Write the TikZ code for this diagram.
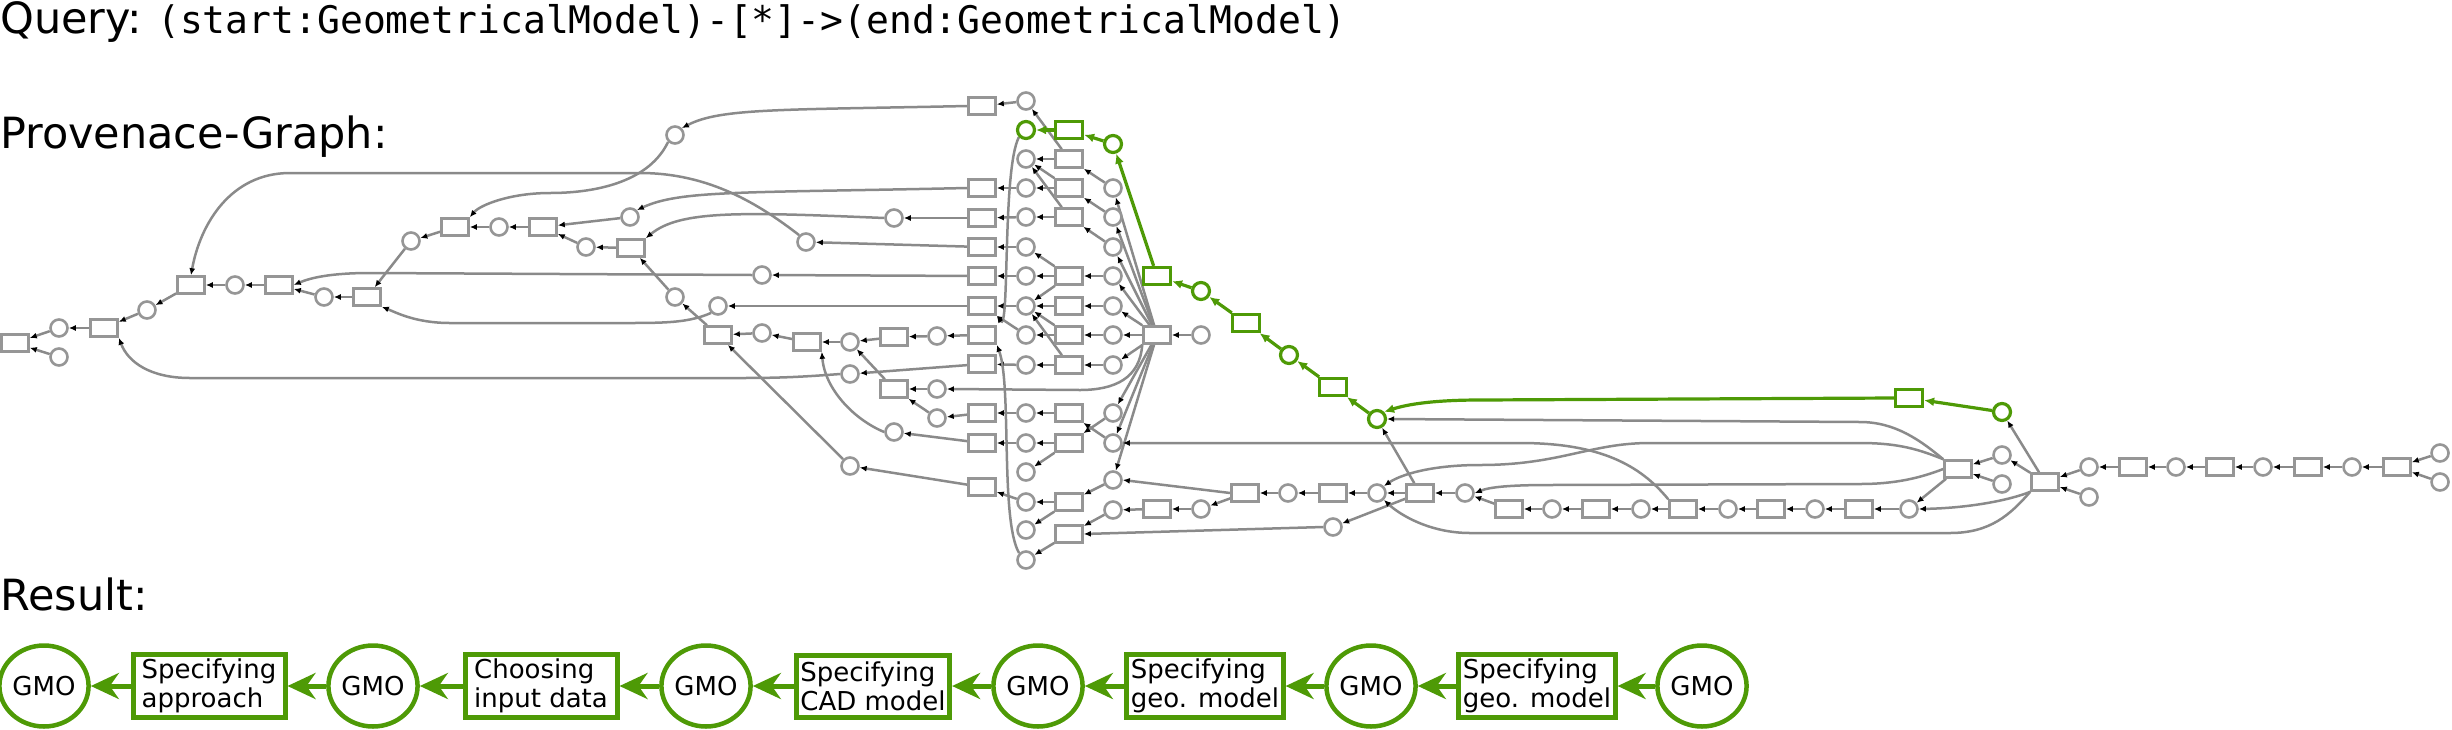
\documentclass[tikz,border=0pt]{standalone}
\usepackage{fontspec}
\setmainfont{DejaVu Sans}
\newfontfamily\monof{DejaVu Sans Mono}
\usetikzlibrary{arrows.meta,shapes.geometric,backgrounds}
\definecolor{pgreen}{RGB}{78,154,6}
\definecolor{nodegray}{RGB}{150,150,150}
\definecolor{edgegray}{RGB}{138,138,138}
\tikzset{
  gc/.style={circle, draw=nodegray, line width=2.6pt, fill=white, minimum size=17pt, inner sep=0pt},
  gbx/.style={rectangle, draw=nodegray, line width=2.6pt, fill=white, minimum width=27pt, minimum height=17pt, inner sep=0pt},
  grc/.style={gc, draw=pgreen, line width=3.2pt},
  grb/.style={gbx, draw=pgreen, line width=3.2pt},
  ed/.style={draw=edgegray, line width=2.5pt, -{Latex[length=7pt,width=6pt,color=black]}},
  ged/.style={draw=pgreen, line width=3.2pt, -{Latex[length=10pt,width=9pt]}},
  rc/.style={ellipse, draw=pgreen, line width=4.5pt, fill=white, minimum width=78pt, minimum height=81pt, inner sep=0pt, font=\fontsize{26}{29}\selectfont},
  rb/.style={rectangle, draw=pgreen, line width=5pt, fill=white, minimum width=152pt, minimum height=62pt, align=left, inner sep=4pt, font=\fontsize{26}{29}\selectfont},
  red/.style={draw=pgreen, line width=5pt, -{Stealth[length=28pt,width=26pt,inset=9pt]}},
  ttl/.style={anchor=base west, inner sep=0pt, font=\fontsize{43}{50}\selectfont}
}
\begin{document}
\begin{tikzpicture}[x=1pt,y=-1pt]
\useasboundingbox (0,0) rectangle (2452,729);
% titles
\node[ttl] (q) at (0,33) {Query:};
\node[anchor=base west, inner sep=0pt, font=\monof\fontsize{38}{45}\selectfont] (qq) at (157,33) {(start:GeometricalModel)-[*]->(end:GeometricalModel)};
\node[ttl] (pg) at (0,148) {Provenace-Graph:};
\node[ttl] (rs) at (0,610) {Result:};

% left chain
\node[gbx] (a1) at (15,343) {};
\node[gc] (a2) at (59,328) {};
\node[gc] (a3) at (59,357) {};
\node[gbx] (a4) at (104,328) {};
\node[gc] (a5) at (147,310) {};
\node[gbx] (a6) at (191,285) {};
\node[gc] (a7) at (235,285) {};
\node[gbx] (a8) at (279,285) {};
\node[gc] (a9) at (324,297) {};
\node[gbx] (a10) at (367,297) {};
\node[gc] (a11) at (411,241) {};
\node[gbx] (a12) at (455,227) {};
\node[gc] (a13) at (499,227) {};
\node[gbx] (a14) at (543,227) {};
\node[gc] (a15) at (586,247) {};
\node[gbx] (a16) at (631,248) {};
\node[gc] (a17) at (630,217) {};
\node[gc] (a18) at (675,135) {};
\node[gc] (a19) at (675,297) {};
% middle
\node[gc] (m1) at (894,218) {};
\node[gc] (m2) at (806,242) {};
\node[gc] (m3) at (762,275) {};
\node[gc] (m4) at (718,306) {};
\node[gbx] (m5) at (718,335) {};
\node[gc] (m6) at (762,333) {};
\node[gbx] (m7) at (807,342) {};
\node[gc] (m8) at (850,342) {};
\node[gbx] (m9) at (894,337) {};
\node[gc] (m10) at (937,336) {};
\node[gc] (m11) at (850,374) {};
\node[gbx] (m12) at (894,389) {};
\node[gc] (m13) at (937,389) {};
\node[gc] (m14) at (937,418) {};
\node[gc] (m15) at (894,432) {};
\node[gc] (m16) at (850,466) {};
% column x=982 boxes
\foreach \y in {106,188,218,247,276,306,335,364,413,443,487} \node[gbx] (k\y) at (982,\y) {};
% column x=1026 circles
\foreach \y in {101,159,188,217,247,276,306,335,365,413,443,472,502,530,560} \node[gc] (c\y) at (1026,\y) {};
\node[grc] (c130) at (1026,130) {};
% column x=1069 boxes
\foreach \y in {159,188,217,276,306,335,365,413,443,502,534} \node[gbx] (b\y) at (1069,\y) {};
\node[grb] (b130) at (1069,130) {};
% column x=1113 circles
\foreach \y in {188,217,247,276,306,335,365,413,443,480,510} \node[gc] (d\y) at (1113,\y) {};
\node[grc] (d144) at (1113,144) {};
% hub and neighbours
\node[grb] (g276) at (1157,276) {};
\node[gbx] (H) at (1157,335) {};
\node[gbx] (e509) at (1157,509) {};
\node[grc] (g291) at (1201,291) {};
\node[gc] (f335) at (1201,335) {};
\node[gc] (f509) at (1201,509) {};
% green chain
\node[grb] (gb323) at (1246,323) {};
\node[grc] (gc355) at (1289,355) {};
\node[grb] (gb387) at (1333,387) {};
\node[grc] (gc419) at (1377,419) {};
\node[grb] (gb398) at (1909,398) {};
\node[grc] (gc412) at (2002,412) {};
% row 493
\node[gbx] (r1) at (1245,493) {};
\node[gc] (r2) at (1288,493) {};
\node[gbx] (r3) at (1333,493) {};
\node[gc] (r4) at (1377,493) {};
\node[gbx] (r5) at (1420,493) {};
\node[gc] (r6) at (1465,493) {};
\node[gc] (r7) at (1333,527) {};
% row 509
\node[gbx] (s1) at (1509,509) {};
\node[gc] (s2) at (1552,509) {};
\node[gbx] (s3) at (1596,509) {};
\node[gc] (s4) at (1641,509) {};
\node[gbx] (s5) at (1683,509) {};
\node[gc] (s6) at (1728,509) {};
\node[gbx] (s7) at (1771,509) {};
\node[gc] (s8) at (1815,509) {};
\node[gbx] (s9) at (1859,509) {};
\node[gc] (s10) at (1909,509) {};
% right part
\node[gbx] (t1) at (1958,469) {};
\node[gc] (t2) at (2002,455) {};
\node[gc] (t3) at (2002,484) {};
\node[gbx] (t4) at (2045,482) {};
\node[gc] (t5) at (2089,467) {};
\node[gc] (t6) at (2089,497) {};
\node[gbx] (t7) at (2133,467) {};
\node[gc] (t8) at (2176,467) {};
\node[gbx] (t9) at (2220,467) {};
\node[gc] (t10) at (2263,467) {};
\node[gbx] (t11) at (2308,467) {};
\node[gc] (t12) at (2352,467) {};
\node[gbx] (t13) at (2397,467) {};
\node[gc] (t14) at (2440,453) {};
\node[gc] (t15) at (2440,482) {};

% result row
\node[rc] (R1) at (44,686) {GMO};
\node[rb] (R2) at (209,686) {Specifying\\approach};
\node[rc] (R3) at (373,686) {GMO};
\node[rb] (R4) at (541,686) {Choosing\\input data};
\node[rc] (R5) at (706,686) {GMO};
\node[rb] (R6) at (873,686) {Specifying\\CAD model};
\node[rc] (R7) at (1038,686) {GMO};
\node[rb] (R8) at (1205,686) {Specifying\\geo. model};
\node[rc] (R9) at (1371,686) {GMO};
\node[rb] (R10) at (1537,686) {Specifying\\geo. model};
\node[rc] (R11) at (1702,686) {GMO};
\draw[red] (R3) -- (R2);
\draw[red] (R2) -- (R1);
\draw[red] (R5) -- (R4);
\draw[red] (R4) -- (R3);
\draw[red] (R7) -- (R6);
\draw[red] (R6) -- (R5);
\draw[red] (R9) -- (R8);
\draw[red] (R8) -- (R7);
\draw[red] (R11) -- (R10);
\draw[red] (R10) -- (R9);

\begin{pgfonlayer}{background}
% left chain
\draw[ed] (a2) -- (a1);
\draw[ed] (a3) -- (a1);
\draw[ed] (a4) -- (a2);
\draw[ed] (a5) -- (a4);
\draw[ed] (a6) -- (a5);
\draw[ed] (a7) -- (a6);
\draw[ed] (a8) -- (a7);
\draw[ed] (a9) -- (a8);
\draw[ed] (a10) -- (a9);
\draw[ed] (a11) -- (a10);
\draw[ed] (a12) -- (a11);
\draw[ed] (a13) -- (a12);
\draw[ed] (a14) -- (a13);
\draw[ed] (a17) -- (a14);
\draw[ed] (a15) -- (a14);
\draw[ed] (a16) -- (a15);
\draw[ed] (a19) -- (a16);
\draw[ed] (m5) -- (a19);
\draw[ed] (a18.south west) .. controls (650,180) and (600,193) .. (550,193) .. controls (510,193) and (480,205) .. (a12.north east);
\draw[ed] (m1.west) .. controls (740,212) and (680,210) .. (a16.north east);
\draw[ed] (k106.west) .. controls (780,110) and (720,108) .. (a18.north east);
\draw[ed] (k188.west) .. controls (740,193) and (680,190) .. (a17.north east);
\draw[ed] (m2.north west) .. controls (760,205) and (710,173) .. (640,173) -- (290,173) .. controls (230,173) and (200,225) .. (a6.north);
\draw[ed] (m3.west) -- (370,273) .. controls (330,273) and (310,278) .. (a8.east);
\draw[ed] (m4.south west) .. controls (690,322) and (670,323) .. (630,323) -- (450,323) .. controls (415,323) and (395,312) .. (a10.south east);
\draw[ed] (m11.west) .. controls (800,377) and (780,378) .. (740,378) -- (190,378) .. controls (150,378) and (128,362) .. (a4.south east);
% middle
\draw[ed] (m16) -- (m5);
\draw[ed] (m6) -- (m5);
\draw[ed] (m7) -- (m6);
\draw[ed] (m8) -- (m7);
\draw[ed] (m15.west) .. controls (855,420) and (825,390) .. (m7.south east);
\draw[ed] (m9) -- (m8);
\draw[ed] (m12) -- (m8);
\draw[ed] (m10) -- (m9);
\draw[ed] (k335) -- (m10);
\draw[ed] (k364) -- (m11);
\draw[ed] (m13) -- (m12);
\draw[ed] (m14) -- (m12);
\draw[ed] (H.south west) .. controls (1140,378) and (1115,390) .. (1080,390) -- (m13.east);
\draw[ed] (k413) -- (m14);
\draw[ed] (k443) -- (m15);
\draw[ed] (k487) -- (m16);
\draw[ed] (k218) -- (m1);
\draw[ed] (k247) -- (m2);
\draw[ed] (k276) -- (m3);
\draw[ed] (k306) -- (m4);
% column
\draw[ed] (c101) -- (k106);
\draw[ed] (b159) -- (c101);
\draw[ed] (c188) -- (k188);
\draw[ed] (c217) -- (k218);
\draw[ed] (c247) -- (k247);
\draw[ed] (c276) -- (k276);
\draw[ed] (c306) -- (k306);
\draw[ed] (c335) -- (k306);
\draw[ed] (c365) -- (k364);
\draw[ed] (c413) -- (k413);
\draw[ed] (c443) -- (k443);
\draw[ed] (c502) -- (k487);
\draw[ed] (c130.south west) .. controls (1002,170) and (1010,335) .. (k306.south east);
\draw[ed] (c560.north west) .. controls (1000,520) and (1012,385) .. (k335.south east);
\draw[ed] (b159) -- (c159);
\draw[ed] (b188) -- (c159);
\draw[ed] (b217) -- (c159);
\draw[ed] (b188) -- (c188);
\draw[ed] (b217) -- (c217);
\draw[ed] (d188) -- (b159);
\draw[ed] (d217) -- (b188);
\draw[ed] (d247) -- (b217);
\draw[ed] (b276) -- (c247);
\draw[ed] (b276) -- (c276);
\draw[ed] (b276) -- (c306);
\draw[ed] (b306) -- (c306);
\draw[ed] (b335) -- (c306);
\draw[ed] (b365) -- (c306);
\draw[ed] (b335) -- (c335);
\draw[ed] (b365) -- (c365);
\draw[ed] (d276) -- (b276);
\draw[ed] (d306) -- (b306);
\draw[ed] (d335) -- (b335);
\draw[ed] (d365) -- (b365);
\draw[ed] (b413) -- (c413);
\draw[ed] (b443) -- (c443);
\draw[ed] (d443) -- (b413);
\draw[ed] (d413) -- (b443);
\draw[ed] (b443) -- (c472);
\draw[ed] (b502) -- (c502);
\draw[ed] (b502) -- (c530);
\draw[ed] (d480) -- (b502);
\draw[ed] (b534) -- (c560);
\draw[ed] (d510) -- (b534);
\draw[ed] (r7.west) -- (b534.east);
\foreach \t in {d188,d217,d247,d276,d306,d335,d365,d413,d443,d480} \draw[ed] (H) -- (\t);
\draw[ed] (f335) -- (H);
\draw[ed] (e509) -- (d510);
\draw[ed] (f509) -- (e509);
\draw[ed] (r1) -- (f509);
\draw[ed] (r1.west) -- (d480.east);
\draw[ed] (s5.north west) .. controls (1640,465) and (1600,443) .. (1520,443) -- (d443.east);
% green path
\draw[ged] (b130) -- (c130);
\draw[ged] (d144) -- (b130);
\draw[ged] (g276) -- (d144);
\draw[ged] (g291) -- (g276);
\draw[ged] (gb323) -- (g291);
\draw[ged] (gc355) -- (gb323);
\draw[ged] (gb387) -- (gc355);
\draw[ged] (gc419) -- (gb387);
\draw[ged] (gb398.west) -- (1480,400) .. controls (1430,400) and (1405,405) .. (gc419.north east);
\draw[ged] (gc412) -- (gb398);
% right part
\draw[ed] (r2) -- (r1);
\draw[ed] (r3) -- (r2);
\draw[ed] (r4) -- (r3);
\draw[ed] (r5) -- (r4);
\draw[ed] (r6) -- (r5);
\draw[ed] (r5) -- (gc419);
\draw[ed] (r5) -- (r7);
\draw[ed] (s1) -- (r6);
\draw[ed] (s2) -- (s1);
\draw[ed] (s3) -- (s2);
\draw[ed] (s4) -- (s3);
\draw[ed] (s5) -- (s4);
\draw[ed] (s6) -- (s5);
\draw[ed] (s7) -- (s6);
\draw[ed] (s8) -- (s7);
\draw[ed] (s9) -- (s8);
\draw[ed] (s10) -- (s9);
\draw[ed] (t1) -- (s10);
\draw[ed] (t4.south west) .. controls (2010,500) and (1970,508) .. (s10.east);
\draw[ed] (t1.north west) .. controls (1920,440) and (1895,422) .. (1860,422) -- (gc419.east);
\draw[ed] (t1.north west) .. controls (1920,450) and (1900,443) .. (1860,443) -- (1650,443) .. controls (1590,443) and (1560,465) .. (1480,465) .. controls (1430,465) and (1400,475) .. (r4.north east);
\draw[ed] (t1.west) .. controls (1920,478) and (1895,484) .. (1860,484) -- (1550,485) .. controls (1510,485) and (1490,487) .. (r6.east);
\draw[ed] (t4.south west) .. controls (2010,515) and (1990,533) .. (1950,533) -- (1470,533) .. controls (1430,533) and (1400,515) .. (r4.south east);
\draw[ed] (t2) -- (t1);
\draw[ed] (t3) -- (t1);
\draw[ed] (t4) -- (t2);
\draw[ed] (t4) -- (gc412);
\draw[ed] (t5) -- (t4);
\draw[ed] (t6) -- (t4);
\draw[ed] (t7) -- (t5);
\draw[ed] (t8) -- (t7);
\draw[ed] (t9) -- (t8);
\draw[ed] (t10) -- (t9);
\draw[ed] (t11) -- (t10);
\draw[ed] (t12) -- (t11);
\draw[ed] (t13) -- (t12);
\draw[ed] (t14) -- (t13);
\draw[ed] (t15) -- (t13);
\end{pgfonlayer}
\end{tikzpicture}
\end{document}
